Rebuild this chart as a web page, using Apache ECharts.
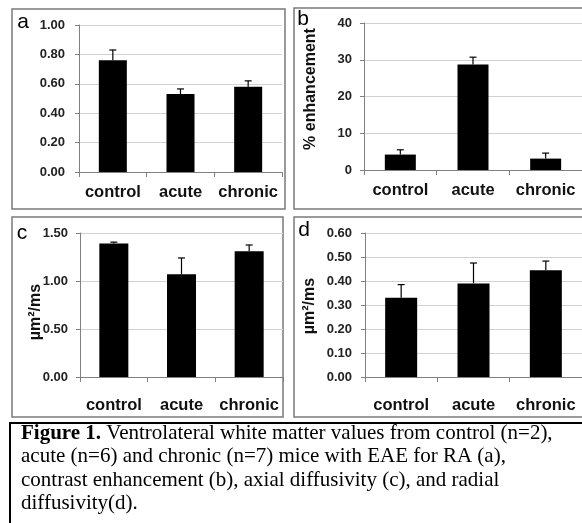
<!DOCTYPE html>
<html>
<head>
<meta charset="utf-8">
<script src="https://cdn.jsdelivr.net/npm/echarts@6/dist/echarts.min.js"></script>
<style>
html,body{margin:0;padding:0;background:#fff;}
#c{width:582px;height:523px;}
</style>
</head>
<body>
<div id="c"></div>
<script>
// ---- data ----
const categories = ['control', 'acute', 'chronic'];

const raValues = [0.76, 0.53, 0.58];
const raUpper = [0.83, 0.565, 0.62];
const raTicks = { min: 0, max: 1.0, interval: 0.2 };

const enhValues = [4.2, 28.7, 3.1];
const enhUpper = [5.5, 30.7, 4.6];
const enhTicks = { min: 0, max: 40, interval: 10 };

const axialValues = [1.39, 1.07, 1.31];
const axialUpper = [1.405, 1.24, 1.375];
const axialTicks = { min: 0, max: 1.5, interval: 0.5 };

const radialValues = [0.33, 0.39, 0.445];
const radialUpper = [0.385, 0.475, 0.483];
const radialTicks = { min: 0, max: 0.6, interval: 0.1 };

const panelLetters = ['a', 'b', 'c', 'd'];
const yNames = ['', '% enhancement', 'µm²/ms', 'µm²/ms'];
const captionLines = [
  '{b|Figure 1.} Ventrolateral white matter values from control (n=2),',
  'acute (n=6) and chronic (n=7) mice with EAE for RA (a),',
  'contrast enhancement (b), axial diffusivity (c), and radial',
  'diffusivity(d).'
];

// ---- layout ----
const grids = [
  { left: 79, top: 25, width: 203, height: 147 },
  { left: 364, top: 23, width: 224, height: 147 },
  { left: 80, top: 233, width: 203, height: 144 },
  { left: 365, top: 233, width: 222, height: 144 }
];
const labelMargins = [12, 12, 20, 20];
const yLabelMargins = [14, 12, 12, 13];
const decimals = [2, 0, 2, 2];
const tickSets = [raTicks, enhTicks, axialTicks, radialTicks];
const valueSets = [raValues, enhValues, axialValues, radialValues];
const upperSets = [raUpper, enhUpper, axialUpper, radialUpper];
const barWidths = [28, 31, 29, 32];

const xAxes = [], yAxes = [], series = [];
grids.forEach((g, i) => {
  xAxes.push({
    type: 'category', gridIndex: i, data: categories,
    axisLine: { lineStyle: { color: '#808080', width: 1 } },
    axisTick: { show: true, length: 5, lineStyle: { color: '#808080' } },
    axisLabel: { interval: 0, hideOverlap: false, color: '#111', fontFamily: 'Liberation Sans', fontWeight: 'bold', fontSize: 16.5, margin: labelMargins[i] },
    splitLine: { show: false }
  });
  const t = tickSets[i];
  yAxes.push({
    type: 'value', gridIndex: i, min: t.min, max: t.max, interval: t.interval,
    axisLine: { show: true, lineStyle: { color: '#808080', width: 1 } },
    axisTick: { show: true, length: 4, lineStyle: { color: '#808080' } },
    axisLabel: {
      color: '#222', fontFamily: 'Liberation Sans', fontWeight: 'bold', fontSize: 13, margin: yLabelMargins[i],
      formatter: v => v.toFixed(decimals[i])
    },
    splitLine: { show: true, lineStyle: { color: '#d0d0d0', width: 1 } }
  });
  series.push({
    type: 'bar', xAxisIndex: i, yAxisIndex: i, data: valueSets[i],
    barWidth: barWidths[i],
    itemStyle: { color: '#000' }, silent: true, animation: false
  });
  series.push({
    type: 'custom', xAxisIndex: i, yAxisIndex: i, animation: false, silent: true,
    data: valueSets[i].map((v, k) => [k, v, upperSets[i][k]]),
    renderItem: (params, api) => {
      const base = api.coord([api.value(0), api.value(1)]);
      const top = api.coord([api.value(0), api.value(2)]);
      return {
        type: 'group', children: [
          { type: 'line', shape: { x1: base[0], y1: base[1], x2: base[0], y2: top[1] }, style: { stroke: '#000', lineWidth: 1.2 } },
          { type: 'line', shape: { x1: base[0] - 3.5, y1: top[1], x2: base[0] + 3.5, y2: top[1] }, style: { stroke: '#000', lineWidth: 1.2 } }
        ]
      };
    },
    z: 3
  });
});

const panels = [
  { x: 12, y: 9, w: 273, h: 200 },
  { x: 294, y: 8, w: 320, h: 201 },
  { x: 12, y: 217, w: 271, h: 200 },
  { x: 294, y: 217, w: 320, h: 200 }
];
const letterPos = [[23, 22], [303, 19], [22, 233], [304, 230]];
const namePos = [null, [311, 89], [36, 312], [310, 306]];

const graphics = [];
panels.forEach(p => {
  graphics.push({ type: 'rect', shape: { x: p.x, y: p.y, width: p.w, height: p.h },
    style: { fill: 'none', stroke: '#7a7a7a', lineWidth: 1.5 }, z: 0 });
});
panelLetters.forEach((l, i) => {
  graphics.push({ type: 'text', x: letterPos[i][0], y: letterPos[i][1],
    style: { text: l, fontFamily: 'Liberation Sans', fontSize: 21, fill: '#000', align: 'center', verticalAlign: 'middle' } });
});
yNames.forEach((n, i) => {
  if (!n) return;
  graphics.push({ type: 'text', x: namePos[i][0], y: namePos[i][1], rotation: Math.PI / 2,
    style: { text: n, fontFamily: 'Liberation Sans', fontWeight: 'bold', fontSize: 16, fill: '#111', align: 'center', verticalAlign: 'middle' } });
});
graphics.push({ type: 'rect', shape: { x: 10, y: 423, width: 600, height: 200 },
  style: { fill: 'none', stroke: '#000', lineWidth: 2 } });
graphics.push({ type: 'text', x: 21, y: 422,
  style: {
    text: captionLines.join('\n'),
    fontFamily: 'Liberation Serif', fontSize: 21, lineHeight: 23.3, fill: '#000',
    align: 'left', verticalAlign: 'top',
    rich: { b: { fontFamily: 'Liberation Serif', fontWeight: 'bold', fontSize: 21, lineHeight: 23.3, fill: '#000' } }
  } });

const chart = echarts.init(document.getElementById('c'), null, { renderer: 'canvas' });
chart.setOption({
  animation: false,
  grid: grids.map(g => Object.assign({ containLabel: false }, g)),
  xAxis: xAxes,
  yAxis: yAxes,
  series: series,
  graphic: { elements: graphics }
});
</script>
</body>
</html>
